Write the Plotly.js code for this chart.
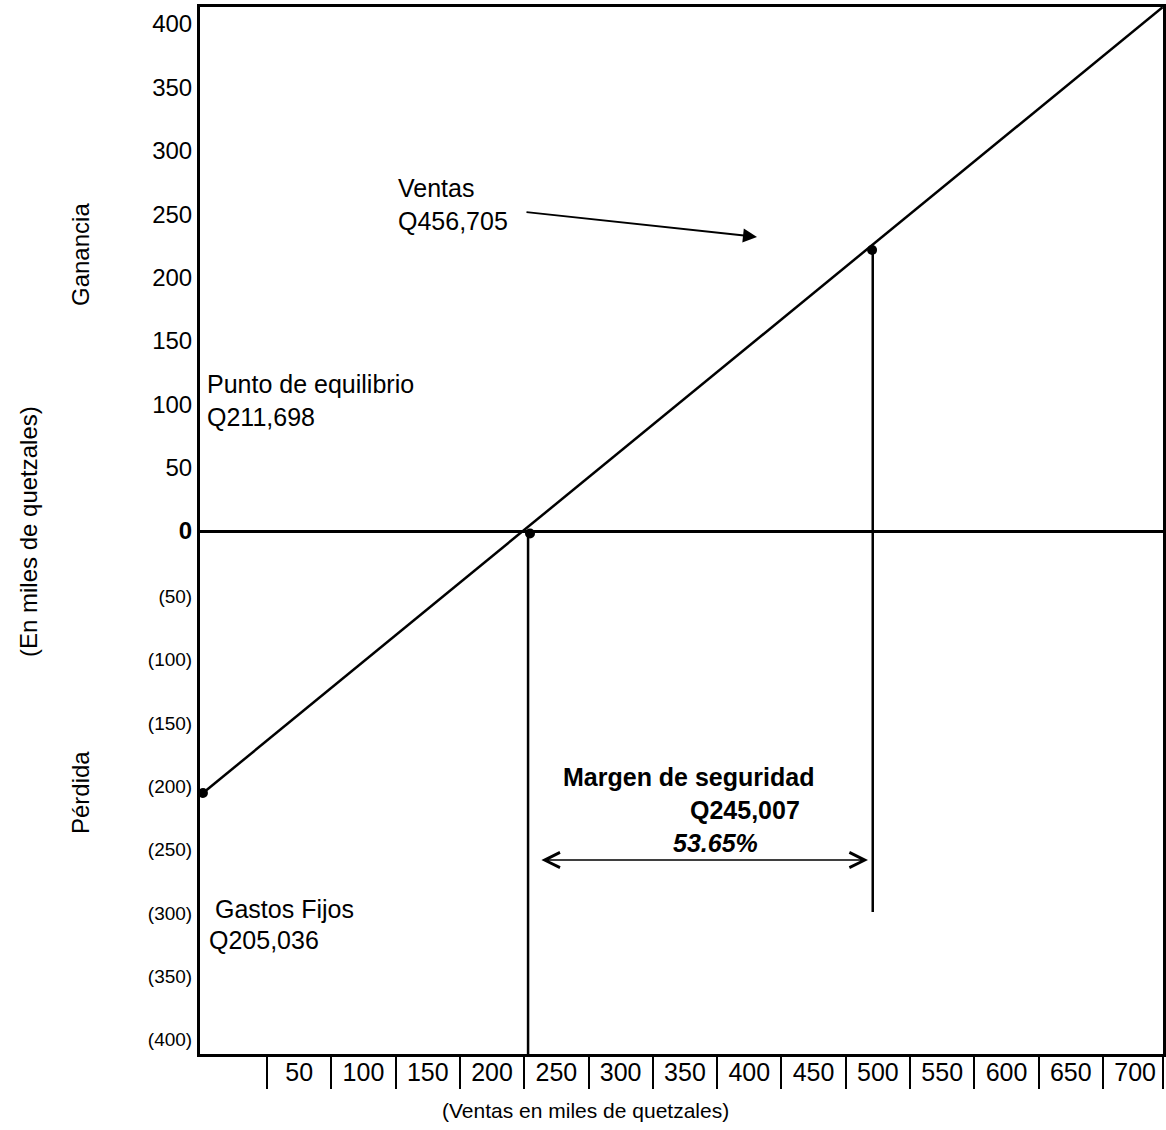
<!DOCTYPE html>
<html>
<head>
<meta charset="utf-8">
<script src="https://cdn.plot.ly/plotly-3.0.1.min.js"></script>
<style>html,body{margin:0;padding:0;background:#fff;}#chart{width:1166px;height:1130px;}</style>
</head>
<body>
<div id="chart"></div>
<script>
// ---- data (thousands of quetzales) ----
const yTickVals = [400, 350, 300, 250, 200, 150, 100, 50, 0, -50, -100, -150, -200, -250, -300, -350, -400];
const yTickText = ['400', '350', '300', '250', '200', '150', '100', '50', '<b>0</b>',
  '(50)', '(100)', '(150)', '(200)', '(250)', '(300)', '(350)', '(400)'];
const xTickVals = [50, 100, 150, 200, 250, 300, 350, 400, 450, 500, 550, 600, 650, 700];
const xTickText = ['50', '100', '150', '200', '250', '300', '350', '400', '450', '500', '550', '600', '650', '700'];
const xCellEdges = [25, 75, 125, 175, 225, 275, 325, 375, 425, 475, 525, 575, 625, 675, 721.5];

// sales / result line
const resultLineX = [-24.8, 721.5];
const resultLineY = [-206.7, 413.3];
// key points: fixed costs, break-even, sales
const keyPointX = [-24.8, 229.5, 495.5];
const keyPointY = [-206.7, -2, 221.7];
// drop lines
const breakEvenDropX = [228, 228];
const breakEvenDropY = [0, -412.6];
const salesDropX = [496, 496];
const salesDropY = [221.7, -300.6];
// arrows
const ventasArrow = {fromX: 225.6, fromY: 251.7, toX: 406, toY: 232};
const marginArrow = {fromX: 237.2, toX: 492.3, y: -259.6};

const X_RANGE = [-27.1, 721.7];
const Y_RANGE = [-412.6, 413.4];

const FONT = 'Liberation Sans, Arial, Helvetica, sans-serif';

const negSpan = t => t.startsWith('(') ? '<span style="font-size:19px">' + t + '</span>' : t;

const lineStyle = {color: 'black', width: 2.5};

const traces = [
  {x: resultLineX, y: resultLineY, mode: 'lines', line: lineStyle, hoverinfo: 'skip'},
  {x: breakEvenDropX, y: breakEvenDropY, mode: 'lines', line: lineStyle, hoverinfo: 'skip'},
  {x: salesDropX, y: salesDropY, mode: 'lines', line: lineStyle, hoverinfo: 'skip'},
  {x: keyPointX, y: keyPointY, mode: 'markers', marker: {color: 'black', size: 10}, hoverinfo: 'skip'}
];

const txt = (text, x, y, size, extra) => Object.assign({
  text: text, x: x, y: y, xref: 'x', yref: 'y', showarrow: false,
  xanchor: 'left', yanchor: 'middle', align: 'left',
  font: {family: FONT, size: size || 25, color: 'black'}
}, extra || {});

const annotations = [
  txt('Ventas', 125.3, 270.6),
  txt('Q456,705', 125.3, 244.6),
  txt('Punto de equilibrio', -23.3, 116),
  txt('Q211,698', -23.3, 90),
  txt('Gastos Fijos', -17, -298),
  txt('Q205,036', -21.7, -322.7),
  txt('<b>Margen de seguridad</b>', 253.6, -194),
  txt('<b>Q245,007</b>', 352.3, -220),
  txt('<b><i>53.65%</i></b>', 339, -246),
  {
    x: ventasArrow.toX, y: ventasArrow.toY, ax: ventasArrow.fromX, ay: ventasArrow.fromY,
    xref: 'x', yref: 'y', axref: 'x', ayref: 'y', text: '', showarrow: true,
    arrowhead: 2, arrowsize: 1.4, arrowwidth: 2, arrowcolor: 'black', standoff: 0, startstandoff: 0
  },
  {
    x: marginArrow.toX, y: marginArrow.y, ax: marginArrow.fromX, ay: marginArrow.y,
    xref: 'x', yref: 'y', axref: 'x', ayref: 'y', text: '', showarrow: true,
    arrowside: 'end+start', arrowhead: 5, startarrowhead: 5, arrowsize: 2, startarrowsize: 2,
    arrowwidth: 1.5, arrowcolor: 'black', standoff: 0, startstandoff: 0
  },
  // axis titles
  {text: '(Ventas en miles de quetzales)', xref: 'paper', yref: 'paper', x: (585 - 200) / 963, y: -(1110 - 1054) / 1047,
   showarrow: false, xanchor: 'center', yanchor: 'middle', font: {family: FONT, size: 21, color: 'black'}},
  {text: 'Ganancia', xref: 'paper', yref: 'paper', x: -(200 - 80) / 963, y: (1054 - 255) / 1047, textangle: -90,
   showarrow: false, xanchor: 'center', yanchor: 'middle', font: {family: FONT, size: 24, color: 'black'}},
  {text: '(En miles de quetzales)', xref: 'paper', yref: 'paper', x: -(200 - 28) / 963, y: (1054 - 532) / 1047, textangle: -90,
   showarrow: false, xanchor: 'center', yanchor: 'middle', font: {family: FONT, size: 24, color: 'black'}},
  {text: 'Pérdida', xref: 'paper', yref: 'paper', x: -(200 - 80) / 963, y: (1054 - 793) / 1047, textangle: -90,
   showarrow: false, xanchor: 'center', yanchor: 'middle', font: {family: FONT, size: 24, color: 'black'}}
];

const layout = {
  width: 1166, height: 1130,
  margin: {l: 200, r: 3, t: 7, b: 76, pad: 0},
  paper_bgcolor: 'white', plot_bgcolor: 'white',
  showlegend: false,
  font: {family: FONT, color: 'black'},
  xaxis: {
    range: X_RANGE, showgrid: false, zeroline: false,
    showline: true, linecolor: 'black', linewidth: 3, mirror: true,
    tickmode: 'array', tickvals: xTickVals, ticktext: xTickText, ticks: '',
    tickfont: {family: FONT, size: 25, color: 'black'}, ticklabelstandoff: -6,
    minor: {tickmode: 'array', tickvals: xCellEdges, ticks: 'outside', ticklen: 32, tickwidth: 2, tickcolor: 'black', showgrid: false}
  },
  yaxis: {
    range: Y_RANGE, showgrid: false,
    zeroline: true, zerolinecolor: 'black', zerolinewidth: 3,
    showline: true, linecolor: 'black', linewidth: 3, mirror: true,
    tickmode: 'array', tickvals: yTickVals, ticktext: yTickText.map(negSpan), ticks: '',
    tickfont: {family: FONT, size: 24, color: 'black'}
  },
  annotations: annotations
};

Plotly.newPlot('chart', traces, layout, {displayModeBar: false, staticPlot: true});
</script>
</body>
</html>
